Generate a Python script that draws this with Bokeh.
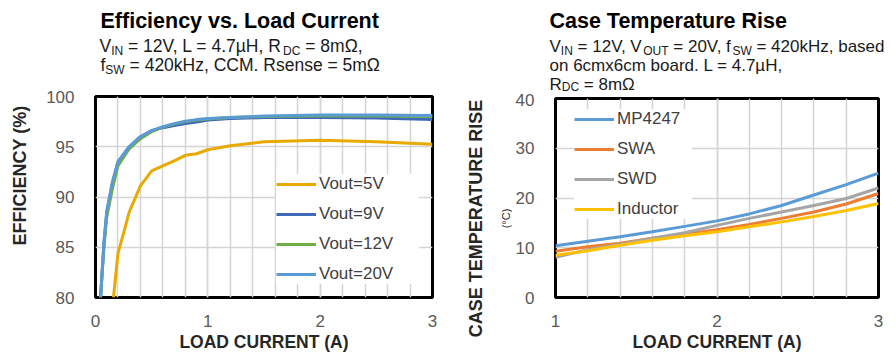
from bokeh.plotting import figure
from bokeh.models import (Range1d, SingleIntervalTicker, FixedTicker, Legend, LegendItem, Label,
                          LinearAxis)
from bokeh.layouts import row, column
from bokeh.embed import file_html
from bokeh.resources import INLINE

# ---------------- data ----------------
# Efficiency vs. load current
eff_x_5v = [0.16, 0.2, 0.25, 0.3, 0.4, 0.5, 0.6, 0.7, 0.8, 0.9, 1.0, 1.2, 1.5, 2.0, 2.5, 3.0]
eff_y_5v = [80, 84.4, 86.4, 88.5, 91.1, 92.6, 93.1, 93.6, 94.15, 94.3, 94.7, 95.1, 95.5, 95.65, 95.5, 95.25]
eff_x = [0.045, 0.075, 0.1, 0.15, 0.2, 0.3, 0.4, 0.5, 0.6, 0.7, 0.8, 0.9, 1.0, 1.2, 1.5, 2.0, 2.5, 3.0]
eff_y_9v = [80, 85.3, 88.4, 91.3, 93.5, 95.0, 96.0, 96.6, 96.9, 97.1, 97.3, 97.45, 97.65, 97.8, 97.9, 97.9, 97.85, 97.7]
eff_y_12v = [80, 85.0, 88.0, 90.8, 93.1, 94.8, 95.8, 96.5, 96.95, 97.25, 97.5, 97.65, 97.75, 97.9, 98.0, 98.05, 98.05, 98.0]
eff_y_20v = [80, 85.5, 88.6, 91.5, 93.5, 95.0, 96.0, 96.6, 97.0, 97.3, 97.55, 97.7, 97.8, 97.9, 98.05, 98.15, 98.15, 98.1]
eff_labels = ["Vout=5V", "Vout=9V", "Vout=12V", "Vout=20V"]

# Case temperature rise
temp_x = [1.0, 1.2, 1.4, 1.6, 1.8, 2.0, 2.2, 2.4, 2.6, 2.8, 3.0]
temp_mp4247 = [10.4, 11.3, 12.2, 13.2, 14.3, 15.4, 16.8, 18.5, 20.6, 22.7, 25.0]
temp_swa = [9.3, 10.2, 10.9, 11.9, 12.7, 13.6, 14.7, 15.9, 17.2, 18.8, 20.9]
temp_swd = [8.1, 9.6, 10.7, 11.9, 13.0, 14.5, 15.9, 17.2, 18.5, 19.9, 22.0]
temp_inductor = [8.5, 9.4, 10.5, 11.5, 12.4, 13.2, 14.2, 15.2, 16.3, 17.5, 18.9]
temp_labels = ["MP4247", "SWA", "SWD", "Inductor"]

FONT = "Liberation Sans"
TICK_COLOR = "#595959"
TITLE_COLOR = "#262626"
GRID_COLOR = "#d4d4d4"
MID = 0.3465  # (ascent - descent) / 2 of Liberation Sans, in em

# approximate Arial / Liberation Sans advance widths (em)
W = {' ': .278, ',': .278, '.': .278, '=': .584, 'µ': .576, 'Ω': .768, '(': .333, ')': .333,
     'A': .667, 'B': .667, 'C': .722, 'D': .722, 'E': .667, 'F': .611, 'H': .722, 'I': .278,
     'L': .556, 'M': .833, 'N': .722, 'O': .778, 'P': .667, 'R': .722, 'S': .667, 'T': .611,
     'U': .722, 'V': .667, 'W': .944,
     'a': .556, 'b': .556, 'c': .5, 'd': .556, 'e': .556, 'f': .278, 'k': .5, 'm': .833,
     'n': .556, 'o': .556, 'r': .333, 's': .5, 't': .278, 'u': .556, 'x': .5, 'z': .5}


def text_width(s, size):
    return sum(W.get(ch, .556) for ch in s) * size


def text_fig(width, height):
    """A figure whose frame is the whole canvas, used only to hold texts."""
    p = figure(width=width, height=height, x_range=Range1d(0, width), y_range=Range1d(0, height),
               x_axis_location=None, y_axis_location=None, output_backend="svg",
               toolbar_location=None, tools="", min_border=0, frame_align=False,
               min_border_left=0, min_border_right=0, min_border_top=0, min_border_bottom=0)
    p.outline_line_color = None
    p.grid.visible = False
    p.background_fill_color = "white"
    return p


def vtitle_fig(width, height, mbl, mbt, mbb, labels):
    """Vertical axis titles drawn as axis labels of tick-less axes (nearest to the frame first)."""
    p = figure(width=width, height=height, x_range=Range1d(0, 1), y_range=Range1d(0, 1),
               x_axis_location=None, y_axis_location="left", output_backend="svg",
               toolbar_location=None, tools="", min_border=0, frame_align=False,
               min_border_left=mbl, min_border_right=0, min_border_top=mbt, min_border_bottom=mbb)
    p.outline_line_color = None
    p.grid.visible = False
    p.background_fill_color = "white"
    for i, (txt, size, bold, standoff) in enumerate(labels):
        ax = p.yaxis[0] if i == 0 else LinearAxis()
        ax.ticker = FixedTicker(ticks=[])
        ax.axis_line_color = None
        ax.major_tick_line_color = None
        ax.minor_tick_line_color = None
        ax.major_tick_out = 0
        ax.major_tick_in = 0
        ax.minor_tick_out = 0
        ax.minor_tick_in = 0
        ax.major_label_standoff = 0
        ax.axis_label = txt
        ax.axis_label_standoff = standoff
        ax.axis_label_text_font = FONT
        ax.axis_label_text_font_size = size
        ax.axis_label_text_font_style = "bold" if bold else "normal"
        ax.axis_label_text_color = TITLE_COLOR
        if i > 0:
            p.add_layout(ax, "left")
    return p


def main_fig(width, height, xr, yr, mbl, mbr, mbt, mbb, xticks, yticks):
    p = figure(width=width, height=height, x_range=Range1d(*xr), y_range=Range1d(*yr),
               output_backend="svg", toolbar_location=None, tools="", frame_align=False,
               min_border_left=mbl, min_border_right=mbr, min_border_top=mbt, min_border_bottom=mbb)
    p.outline_line_color = "black"
    p.outline_line_width = 3
    p.background_fill_color = "white"
    p.xaxis.ticker = SingleIntervalTicker(interval=xticks, num_minor_ticks=5)
    p.yaxis.ticker = SingleIntervalTicker(interval=yticks, num_minor_ticks=0)
    for ax in (p.xaxis[0], p.yaxis[0]):
        ax.axis_line_color = None
        ax.major_tick_line_color = None
        ax.minor_tick_line_color = None
        ax.major_label_text_font = FONT
        ax.major_label_text_font_size = "17px"
        ax.major_label_text_color = TICK_COLOR
    p.xaxis.major_label_standoff = 11
    p.yaxis.major_label_standoff = 15
    p.xaxis.axis_label = "LOAD CURRENT (A)"
    p.xaxis.axis_label_standoff = 2
    p.xaxis.axis_label_text_font = FONT
    p.xaxis.axis_label_text_font_size = "17.5px"
    p.xaxis.axis_label_text_font_style = "bold"
    p.xaxis.axis_label_text_color = TITLE_COLOR
    p.xgrid.grid_line_color = GRID_COLOR
    p.xgrid.grid_line_width = 1.5
    p.xgrid.minor_grid_line_color = GRID_COLOR
    p.xgrid.minor_grid_line_width = 1.5
    p.ygrid.grid_line_color = GRID_COLOR
    p.ygrid.grid_line_width = 1.5
    return p


def add_rich_line(p, x, base, segs, size, sub_size, drop=3.0):
    """base: baseline height (data units = px from the bottom of the text figure)."""
    off = x
    for txt, sub in segs:
        fs = sub_size if sub else size
        body = txt.lstrip(" ")
        off += text_width(txt[:len(txt) - len(body)], fs)
        b = base - (drop if sub else 0)
        p.add_layout(Label(x=off, y=b + MID * fs, text=body, text_font=FONT,
                           text_font_size=f"{fs}px", text_color="#1a1a1a",
                           text_baseline="middle", text_align="left"))
        off += text_width(body, fs)


def add_title(p, x, base, txt, size=21.5):
    p.add_layout(Label(x=x, y=base + MID * size, text=txt, text_font=FONT, text_font_size=f"{size}px",
                       text_font_style="bold", text_color="black",
                       text_baseline="middle", text_align="left"))


def style_legend(leg, padding, label_width):
    leg.background_fill_color = "white"
    leg.background_fill_alpha = 1.0
    leg.border_line_color = None
    leg.label_text_font = FONT
    leg.label_text_font_size = "17px"
    leg.label_text_color = "#404040"
    leg.glyph_width = 40
    leg.glyph_height = 20
    leg.label_height = 20
    leg.label_width = label_width
    leg.label_standoff = 3
    leg.spacing = 10
    leg.padding = padding
    leg.margin = 0


# ---------------- left chart: efficiency ----------------
head1 = text_fig(462, 88)
add_title(head1, 100, 60, "Efficiency vs. Load Current")
add_rich_line(head1, 99, 36, [("V", 0), ("IN", 1), (" = 12V, L = 4.7µH, R", 0), ("DC", 1), (" = 8mΩ,", 0)],
              17.5, 12)
add_rich_line(head1, 100, 17.5, [("f", 0), ("SW", 1), (" = 420kHz, CCM. Rsense = 5mΩ", 0)], 17.5, 12)

yt1 = vtitle_fig(40, 266, 38, 62, 154, [("EFFICIENCY (%)", "18px", True, 9)])

p1 = main_fig(422, 266, (0, 3), (80, 100), 55, 30, 8, 53, 1, 5)
r5 = p1.line(eff_x_5v, eff_y_5v, line_color="#E8A900", line_width=3)
r9 = p1.line(eff_x, eff_y_9v, line_color="#3F68B8", line_width=3)
r12 = p1.line(eff_x, eff_y_12v, line_color="#70AD47", line_width=3)
r20 = p1.line(eff_x, eff_y_20v, line_color="#5B9BD5", line_width=3)
leg1 = Legend(items=[LegendItem(label=eff_labels[0], renderers=[r5]),
                     LegendItem(label=eff_labels[1], renderers=[r9]),
                     LegendItem(label=eff_labels[2], renderers=[r12]),
                     LegendItem(label=eff_labels[3], renderers=[r20])],
              location=(181, 13))
style_legend(leg1, 6, 100)
p1.add_layout(leg1)

left = column(head1, row(yt1, p1, spacing=0), spacing=0)

# ---------------- right chart: temperature ----------------
head2 = text_fig(434, 93)
add_title(head2, 87, 65, "Case Temperature Rise")
add_rich_line(head2, 87, 41, [("V", 0), ("IN", 1), (" = 12V, V", 0), ("OUT", 1), (" = 20V, f", 0), ("SW", 1),
                              (" = 420kHz, based", 0)], 17, 12)
add_rich_line(head2, 87, 22, [("on 6cmx6cm board. L = 4.7µH,", 0)], 17, 12)
add_rich_line(head2, 87, 3.6, [("R", 0), ("DC", 1), (" = 8mΩ", 0)], 17, 12, drop=1.0)

yt2 = vtitle_fig(50, 261, 48, 100, 111,
                 [("(°C)", "11px", False, 0), ("CASE TEMPERATURE RISE", "18px", True, 11)])

p2 = main_fig(384, 261, (1, 3), (0, 40), 36, 18, 5, 53, 1, 10)
ra = p2.line(temp_x, temp_mp4247, line_color="#5B9BD5", line_width=3)
rb = p2.line(temp_x, temp_swa, line_color="#ED7D31", line_width=3)
rc = p2.line(temp_x, temp_swd, line_color="#A5A5A5", line_width=3)
rd = p2.line(temp_x, temp_inductor, line_color="#FFC000", line_width=3)
leg2 = Legend(items=[LegendItem(label=temp_labels[0], renderers=[ra]),
                     LegendItem(label=temp_labels[1], renderers=[rb]),
                     LegendItem(label=temp_labels[2], renderers=[rc]),
                     LegendItem(label=temp_labels[3], renderers=[rd])],
              location=(19, 78))
style_legend(leg2, 5, 75)
p2.add_layout(leg2)

right = column(head2, row(yt2, p2, spacing=0), spacing=0)

layout = row(left, right, spacing=0)
open("out.html", "w").write(file_html(layout, INLINE))
